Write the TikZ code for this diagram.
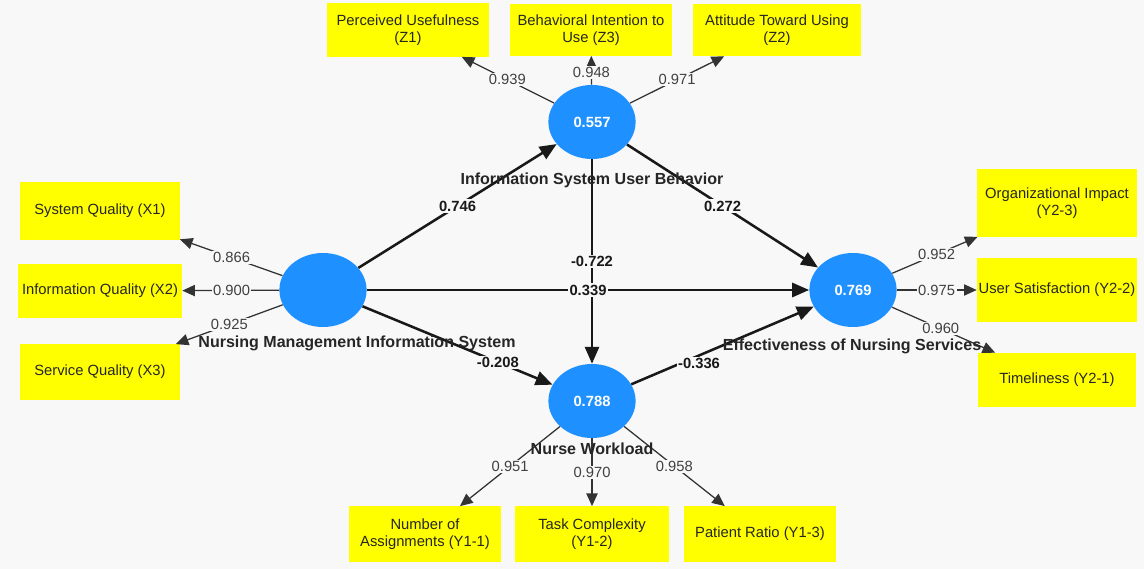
\documentclass[tikz,border=0pt]{standalone}
\usepackage{fontspec}
\setmainfont{Liberation Sans}
\usetikzlibrary{arrows.meta, shapes.geometric, calc}

\definecolor{bgray}{HTML}{F8F8F8}
\definecolor{lvblue}{HTML}{1E90FF}
\definecolor{indyellow}{HTML}{FFFF00}
\definecolor{loadgray}{HTML}{404040}

\begin{document}
\begin{tikzpicture}[x=0.025cm, y=-0.025cm,
    every node/.style={font=\fontsize{10.5}{12.5}\selectfont},
    latent/.style={ellipse, fill=lvblue, minimum width=2.18cm, minimum height=1.85cm, inner sep=0pt,
      text=white, font=\fontsize{10.5}{12.5}\selectfont\bfseries},
    ind/.style={fill=indyellow, align=center, inner sep=1pt, text=black!85},
    lvname/.style={font=\fontsize{11.4}{13.5}\selectfont\bfseries, text=black!85},
    outarr/.style={-{Triangle[length=9pt, width=8pt]}, line width=0.9pt, draw=black!80},
    inarr/.style={-{Triangle[length=12pt, width=10pt]}, line width=1.8pt, draw=black!90},
    ldval/.style={fill=bgray, inner sep=1pt, text=loadgray},
    pcval/.style={fill=bgray, inner sep=1pt, text=black!90, font=\fontsize{10.5}{12.5}\selectfont\bfseries}]

        \fill[bgray] (0,0) rectangle (1144,569);
        \useasboundingbox (0,0) rectangle (1144,569);

        % latent variables
        \node[latent] (nmis) at (323, 290) {};
        \node[latent] (isub) at (592, 122) {0.557};
        \node[latent] (nw) at (592, 401) {0.788};
        \node[latent] (ens) at (853, 290) {0.769};

        % indicators
        \node[ind, minimum width=4.03cm, minimum height=1.33cm] (z1) at (408, 30) {Perceived Usefulness\\(Z1)};
        \node[ind, minimum width=4.05cm, minimum height=1.28cm] (z3) at (591, 30) {Behavioral Intention to\\Use (Z3)};
        \node[ind, minimum width=4.2cm, minimum height=1.3cm] (z2) at (777, 30) {Attitude Toward Using\\(Z2)};

        \node[ind, minimum width=3.98cm, minimum height=1.45cm] (x1) at (100, 211) {System Quality (X1)};
        \node[ind, minimum width=4.1cm, minimum height=1.35cm] (x2) at (100, 291) {Information Quality (X2)};
        \node[ind, minimum width=3.98cm, minimum height=1.38cm] (x3) at (100, 372) {Service Quality (X3)};

        \node[ind, minimum width=4cm, minimum height=1.68cm] (y23) at (1057, 203) {Organizational Impact\\(Y2-3)};
        \node[ind, minimum width=4cm, minimum height=1.6cm] (y22) at (1057, 290) {User Satisfaction (Y2-2)};
        \node[ind, minimum width=3.95cm, minimum height=1.35cm] (y21) at (1057, 380) {Timeliness (Y2-1)};

        \node[ind, minimum width=3.78cm, minimum height=1.38cm] (y11) at (425, 534) {Number of\\Assignments (Y1-1)};
        \node[ind, minimum width=3.83cm, minimum height=1.38cm] (y12) at (592, 534) {Task Complexity\\(Y1-2)};
        \node[ind, minimum width=3.78cm, minimum height=1.38cm] (y13) at (760, 534) {Patient Ratio (Y1-3)};

        % outer loadings
        \foreach \lv/\ind/\t/\val in {isub/z1/0.46/0.939, isub/z3/0.54/0.948, isub/z2/0.46/0.971,
            nmis/x1/0.41/0.866, nmis/x2/0.41/0.900, nmis/x3/0.42/0.925,
            ens/y23/0.41/0.952, ens/y22/0.41/0.975, ens/y21/0.43/0.960,
            nw/y11/0.49/0.951, nw/y12/0.54/0.970, nw/y13/0.49/0.958} {
          \draw[outarr] (\lv) -- (\ind);
          \node[ldval] at ($(\lv)!\t!(\ind)$) {\val};
        }

        % structural paths
        \draw[inarr] (nmis) -- (isub);
        \draw[inarr] (isub) -- (ens);
        \draw[inarr] (isub) -- (nw);
        \draw[inarr] (nmis) -- (ens);
        \draw[inarr] (nmis) -- (nw);
        \draw[inarr] (nw) -- (ens);

        \node[pcval] at ($(nmis)!0.5!(isub)$) {0.746};
        \node[pcval] at ($(isub)!0.5!(ens)$) {0.272};
        \node[pcval] at ($(isub)!0.5!(nw)$) {-0.722};
        \node[pcval] at ($(nmis)!0.5!(ens)$) {0.339};
        \node[pcval] at ($(nmis)!0.65!(nw)$) {-0.208};
        \node[pcval] at ($(nw)!0.41!(ens)+(0,8)$) {-0.336};

        % latent names
        \node[lvname] (isubname) at (592, 180) {Information System User Behavior};
        \node[lvname] (nmisname) at (357, 343) {Nursing Management Information System};
        \node[lvname] (nwname) at (592, 449) {Nurse Workload};
        \node[lvname] (ensname) at (852, 346) {Effectiveness of Nursing Services};

      \end{tikzpicture}
\end{document}
